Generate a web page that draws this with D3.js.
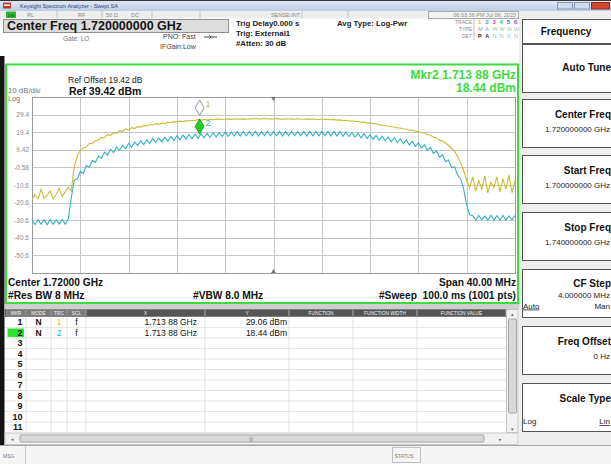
<!DOCTYPE html>
<html><head><meta charset="utf-8">
<script src="https://cdn.jsdelivr.net/npm/d3@7"></script>
<style>body{margin:0;background:#fff}svg{display:block}text{font-family:"Liberation Sans",Arial,sans-serif}</style>
</head><body>
<svg id="c" width="611" height="464"></svg>
<script>
// ---------------- data ----------------
const startMHz = 1700, stopMHz = 1740, stepMHz = 0.25;
const refLevel = 39.42, dbPerDiv = 10, numDiv = 10;
const yTickLabels = ["29.4","19.4","9.42","-0.58","-10.6","-20.6","-30.6","-40.6","-50.6"];

// Trace 1 (yellow, positive peak), dBm, one value per 0.25 MHz
const trace1 = [
-19.0,-16.0,-18.5,-13.0,-18.0,-16.5,-14.0,-18.5,-16.0,-12.5,-17.0,-14.5,-12.0,-14.0,0.0,6.0,
9.0,10.5,11.0,13.0,13.0,14.5,15.0,16.5,16.3,18.0,17.6,19.0,18.8,20.3,19.8,21.2,
20.7,22.0,21.5,22.6,22.3,23.3,22.9,23.8,23.4,24.3,23.9,24.6,24.4,25.1,24.8,25.4,
25.2,25.7,25.5,26.0,25.8,26.2,26.1,26.6,26.3,26.6,26.4,26.8,26.5,26.7,26.9,26.6,
26.8,27.0,26.7,26.9,27.1,26.8,27.0,26.8,27.1,26.9,27.2,26.9,27.0,27.2,26.9,27.1,
26.9,27.2,27.0,26.8,27.1,26.9,27.0,26.8,27.1,26.9,26.8,27.0,26.7,26.9,26.8,26.6,
26.9,26.6,26.7,26.5,26.6,26.3,26.4,26.1,26.2,25.8,25.9,25.5,25.5,25.1,25.2,24.7,
24.6,24.3,24.2,23.7,23.5,23.2,22.9,22.5,22.4,21.9,21.8,21.2,21.2,20.5,20.6,19.8,
19.9,19.0,19.0,18.0,17.8,16.6,16.3,14.8,14.5,13.3,12.0,10.3,8.5,5.5,2.0,-2.5,
-8.0,-12.0,-6.0,-14.0,-8.0,-13.0,-5.5,-15.0,-9.0,-12.0,-6.0,-14.5,-7.0,-13.0,-5.0,-15.0,
-8.0
];
// Trace 2 (cyan, average), dBm
const trace2 = [
-30.6,-33.0,-30.4,-32.8,-30.5,-33.1,-30.3,-32.9,-30.4,-32.7,-30.2,-32.8,-30.0,-18.0,-8.0,-7.0,
-3.0,-4.0,0.5,-0.5,3.5,2.3,6.0,4.5,8.0,6.3,9.6,7.8,11.0,9.1,12.1,10.1,
13.1,11.0,13.9,11.8,14.6,12.4,15.2,13.0,15.8,13.5,16.2,13.9,16.6,14.3,17.0,14.7,
17.4,15.1,17.8,15.4,18.1,15.7,18.3,15.9,18.5,16.2,18.8,16.4,19.1,16.7,19.3,16.9,
19.5,17.1,19.6,17.2,19.7,17.3,19.8,17.4,19.9,17.4,19.9,17.3,19.9,17.5,20.0,17.4,
19.9,17.4,19.9,17.3,19.9,17.4,20.0,17.5,19.9,17.4,19.9,17.3,19.9,17.4,19.8,17.3,
19.9,17.4,19.8,17.3,19.9,17.3,19.7,17.1,19.5,16.9,19.2,16.6,18.9,16.2,18.5,15.8,
18.0,15.3,17.6,14.9,17.2,14.5,16.7,14.0,16.3,13.5,15.7,12.8,15.0,12.1,14.3,11.4,
13.5,10.4,12.3,9.1,10.8,7.3,8.8,5.2,6.5,2.7,3.6,-0.7,-0.3,-5.0,-7.0,-13.0,
-22.0,-27.5,-28.0,-30.5,-27.9,-30.4,-28.1,-30.6,-27.8,-30.5,-28.0,-30.3,-27.9,-30.6,-28.1,-30.4,
-27.9
];
const markers = [
  {id:"1", freqMHz:1713.88, value:29.06, trc:"1"},
  {id:"2", freqMHz:1713.88, value:18.44, trc:"2"}
];
const markerX = ["1.713 88 GHz","1.713 88 GHz"];
const markerY = ["29.06 dBm","18.44 dBm"];
const tableCols = ["MKR","MODE","TRC","SCL","X","Y","FUNCTION","FUNCTION WIDTH","FUNCTION VALUE"];
const softkeys = [
  {title:"Auto Tune", value:""},
  {title:"Center Freq", value:"1.720000000 GHz"},
  {title:"Start Freq", value:"1.700000000 GHz"},
  {title:"Stop Freq", value:"1.740000000 GHz"},
  {title:"CF Step", value:"4.000000 MHz", left:"Auto", right:"Man"},
  {title:"Freq Offset", value:"0 Hz"},
  {title:"Scale Type", value:"", left:"Log", right:"Lin"}
];

// ---------------- drawing ----------------
const svg = d3.select("#c");
const YEL = "#c9bd35", CYN = "#35b1c6", GRN = "#3ddc3d";
function T(g, x, y, s, o = {}) {
  const t = g.append("text").attr("x", x).attr("y", y).text(s)
    .attr("font-size", o.size || 7).attr("fill", o.fill || "#1a1a1a")
    .attr("text-anchor", o.anchor || "start");
  if (o.bold) t.attr("font-weight", "bold");
  if (o.ul) t.attr("text-decoration", "underline");
  return t;
}
function R(g, x, y, w, h, fill, stroke, sw) {
  return g.append("rect").attr("x", x).attr("y", y).attr("width", w).attr("height", h)
    .attr("fill", fill || "none").attr("stroke", stroke || "none").attr("stroke-width", sw || 1);
}
const defs = svg.append("defs");
const gr = defs.append("linearGradient").attr("id", "tb").attr("x1", 0).attr("y1", 0).attr("x2", 0).attr("y2", 1);
gr.append("stop").attr("offset", "0").attr("stop-color", "#e3ebf6");
gr.append("stop").attr("offset", "1").attr("stop-color", "#bccde3");

// title bar
R(svg, 0, 0, 611, 11, "url(#tb)");
R(svg, 0, 0, 611, 1, "#333");
R(svg, 3, 2.5, 8, 6, "#c23a32");
R(svg, 4, 4.5, 6, 1.5, "#fff");
T(svg, 20, 8.2, "Keysight Spectrum Analyzer - Swept SA", {size: 5.5, fill: "#2f3f6f"});
R(svg, 557.5, 2.5, 15, 6.5, "#cfdbea", "#8797b0");
R(svg, 574.5, 2.5, 15, 6.5, "#cfdbea", "#8797b0");
R(svg, 591.5, 2.5, 18, 6.5, "#d2452f", "#8f2a1c");

// status row
R(svg, 0, 11, 611, 7.5, "#eeeeee");
R(svg, 6, 11.5, 10, 6.5, "#2fb62f");
T(svg, 11, 16.7, "LXI", {size: 4, fill: "#0a3a0a", anchor: "middle"});
[57, 102, 152, 200, 302, 348].forEach(v => svg.append("line").attr("x1", v).attr("x2", v).attr("y1", 11).attr("y2", 18.5).attr("stroke", "#c4c4c4"));
R(svg, 428.5, 11.5, 90, 7, "#f3f3f3", "#aaa");
T(svg, 27, 17, "RL", {size: 5.5, fill: "#888"});
T(svg, 78, 17, "RF", {size: 5.5, fill: "#888"});
T(svg, 106, 17, "50 Ω", {size: 5.5, fill: "#888"});
T(svg, 131, 17, "DC", {size: 5.5, fill: "#888"});
T(svg, 300, 17, "SENSE:INT", {size: 5.5, fill: "#888", anchor: "end"});
T(svg, 516, 17, "06:03:36 PM Jul 06, 2023", {size: 5.5, fill: "#888", anchor: "end"});

// settings header
R(svg, 3.5, 19.5, 225, 13, "#dcdcdc", "#8e8e8e");
T(svg, 7, 30.3, "Center Freq 1.720000000 GHz", {size: 12.5, bold: true, fill: "#151515"});
T(svg, 63, 41, "Gate: LO", {size: 6.5, fill: "#777"});
T(svg, 163, 39, "PNO: Fast", {size: 7, fill: "#444"});
svg.append("path").attr("d", "M204,37 L209,37 M212,37 L217,37 M209,35.5 L211,37 L209,38.5 M212,35.5 L210.5,37 L212,38.5").attr("stroke", "#333").attr("fill", "none").attr("stroke-width", 0.9);
T(svg, 160, 49, "IFGain:Low", {size: 7, fill: "#444"});
T(svg, 236, 25.5, "Trig Delay0.000 s", {size: 7.8, bold: true, fill: "#222"});
T(svg, 236, 35.5, "Trig: External1", {size: 7.8, bold: true, fill: "#222"});
T(svg, 236, 45.5, "#Atten: 30 dB", {size: 7.8, bold: true, fill: "#222"});
T(svg, 337, 25.5, "Avg Type: Log-Pwr", {size: 7.8, bold: true, fill: "#222"});
T(svg, 472, 24, "TRACE", {size: 5, fill: "#888", anchor: "end"});
T(svg, 472, 31, "TYPE", {size: 5, fill: "#888", anchor: "end"});
T(svg, 472, 38, "DET", {size: 5, fill: "#888", anchor: "end"});
svg.append("line").attr("x1", 474).attr("x2", 474).attr("y1", 19).attr("y2", 40).attr("stroke", "#bbb");
const trCols = ["#d8c400", "#2aa9d0", "#d040c0", "#3cba3c", "#4060e0", "#9050c0"];
["1","2","3","4","5","6"].forEach((d, i) => T(svg, 478 + i * 7.2, 24, d, {size: 6, fill: trCols[i], bold: true}));
["M","A","W","W","W","W"].forEach((d, i) => T(svg, 478 + i * 7.2, 31, d, {size: 5.5, fill: i < 2 ? "#999" : "#9fc8a8"}));
["P","A","N","N","N","N"].forEach((d, i) => T(svg, 478 + i * 7.2, 38, d, {size: 5.5, fill: i < 2 ? "#333" : "#8fc8b8", bold: i < 2}));

// right soft-key panel
R(svg, 519, 18.5, 92, 427, "#eeeeee");
R(svg, 522.5, 19.5, 92, 24, "#fff", "#555");
T(svg, 566, 34.5, "Frequency", {size: 10, bold: true, fill: "#111", anchor: "middle"});
const keyTops = [44, 99, 155, 212, 269, 326, 383];
softkeys.forEach((k, i) => {
  const y0 = keyTops[i];
  R(svg, 522.5, y0 + 0.5, 92, 48, "#fff", "#555");
  const three = k.value && k.left;
  const ty = three ? y0 + 18 : (k.value || k.left ? y0 + 19 : y0 + 27);
  T(svg, 611, ty, k.title, {size: 10, bold: true, fill: "#111", anchor: "end"});
  if (k.value) T(svg, 610, three ? y0 + 28.5 : y0 + 33, k.value, {size: 8, fill: "#222", anchor: "end"});
  if (k.left) {
    const ly = three ? y0 + 39.5 : y0 + 41;
    T(svg, 523, ly, k.left, {size: 8, fill: "#222", ul: k.left === "Auto"});
    T(svg, 610, ly, k.right, {size: 8, fill: "#222", anchor: "end", ul: k.right === "Lin"});
  }
});

// black left edge
R(svg, 0, 56, 4.5, 389, "#141414");

// plot frame
R(svg, 6, 64.5, 512, 238.5, "#fff", GRN, 2);

const x = d3.scaleLinear().domain([startMHz, stopMHz]).range([32, 515]);
const y = d3.scaleLinear().domain([refLevel - dbPerDiv * numDiv, refLevel]).range([273, 97]);
const plot = svg.append("g");
const grid = plot.append("g").attr("stroke", "#c6c6c6").attr("stroke-width", 1);
d3.range(numDiv + 1).forEach(k => {
  const xv = Math.round(x(startMHz + k * (stopMHz - startMHz) / numDiv)) + 0.5;
  grid.append("line").attr("x1", xv).attr("x2", xv).attr("y1", y.range()[1]).attr("y2", y.range()[0]);
  const yv = Math.round(y(refLevel - k * dbPerDiv)) + 0.5;
  grid.append("line").attr("x1", x.range()[0]).attr("x2", x.range()[1]).attr("y1", yv).attr("y2", yv);
});
R(plot, x.range()[0] + 0.5, y.range()[1] + 0.5, x.range()[1] - x.range()[0], y.range()[0] - y.range()[1], "none", "#9a9a9a");
// centre markers
const cx = x((startMHz + stopMHz) / 2);
plot.append("path").attr("d", `M${cx - 2.5},${y.range()[1]} L${cx + 2.5},${y.range()[1]} L${cx},${y.range()[1] + 4}Z`).attr("fill", "#777");
plot.append("path").attr("d", `M${cx - 2.5},${y.range()[0]} L${cx + 2.5},${y.range()[0]} L${cx},${y.range()[0] - 4}Z`).attr("fill", "#777");

// y axis labels
const yAxis = d3.axisLeft(y)
  .tickValues(yTickLabels.map((d, i) => refLevel - (i + 1) * dbPerDiv))
  .tickFormat((d, i) => yTickLabels[i]).tickSize(0).tickPadding(3);
const ya = plot.append("g").attr("transform", `translate(${x.range()[0]},0)`).call(yAxis);
ya.select(".domain").remove();
ya.selectAll("text").attr("font-size", 6.5).attr("fill", "#8a8a8a").attr("font-family", '"Liberation Sans",Arial,sans-serif');

// traces
plot.append("clipPath").attr("id", "pc").append("rect")
  .attr("x", x.range()[0]).attr("y", y.range()[1]).attr("width", x.range()[1] - x.range()[0]).attr("height", y.range()[0] - y.range()[1]);
const line = d3.line().x((d, i) => x(startMHz + i * stepMHz)).y(d => y(d));
const tg = plot.append("g").attr("clip-path", "url(#pc)");
tg.append("path").datum(trace1).attr("d", line).attr("fill", "none").attr("stroke", YEL).attr("stroke-width", 1.1);
tg.append("path").datum(trace2).attr("d", line).attr("fill", "none").attr("stroke", CYN).attr("stroke-width", 1.1);

// markers
markers.forEach(m => {
  const mx = x(m.freqMHz), my = y(m.value);
  const fill = m.id === "2" ? "#25cc25" : "#fff";
  const st = m.id === "2" ? "#1a8a1a" : "#777";
  plot.append("path").attr("d", `M${mx},${my} L${mx - 4.5},${my - 7.5} L${mx},${my - 15} L${mx + 4.5},${my - 7.5}Z`)
    .attr("fill", fill).attr("stroke", st).attr("stroke-width", 0.8);
  T(plot, mx + 6, my - 8, m.id, {size: 9, fill: m.trc === "1" ? YEL : CYN});
});

// plot annotations
T(plot, 68, 83, "Ref Offset 19.42 dB", {size: 8.5, fill: "#222"});
T(plot, 69, 95, "Ref 39.42 dBm", {size: 10.5, bold: true, fill: "#111"});
T(plot, 8, 93, "10 dB/div", {size: 7.8, fill: "#777"});
T(plot, 8, 100.5, "Log", {size: 7.2, fill: "#777"});
T(plot, 516, 78.5, "Mkr2 1.713 88 GHz", {size: 12, bold: true, fill: GRN, anchor: "end"});
T(plot, 516, 91.5, "18.44 dBm", {size: 12, bold: true, fill: GRN, anchor: "end"});
T(plot, 8, 285.5, "Center 1.72000 GHz", {size: 10.2, bold: true, fill: "#111"});
T(plot, 8, 299, "#Res BW 8 MHz", {size: 10.2, bold: true, fill: "#111"});
T(plot, 193, 299, "#VBW 8.0 MHz", {size: 10.2, bold: true, fill: "#111"});
T(plot, 516, 285.5, "Span 40.00 MHz", {size: 10.2, bold: true, fill: "#111", anchor: "end"});
T(plot, 516, 299, "#Sweep  100.0 ms (1001 pts)", {size: 10.2, bold: true, fill: "#111", anchor: "end"}).style("white-space", "pre");

// marker table
R(svg, 4.5, 304, 515, 5, "#cfcfcf");
const colEdges = [6, 26, 51, 67, 86, 205, 289, 353, 417, 506];
R(svg, 5, 309, 513, 8, "#5e5e5e");
tableCols.forEach((c, i) => {
  R(svg, colEdges[i] + 0.5, 309.5, colEdges[i + 1] - colEdges[i] - 1, 7, i < 4 ? "#7a7a7a" : "#555", "#9a9a9a", 0.6);
  T(svg, (colEdges[i] + colEdges[i + 1]) / 2, 315.3, c, {size: 4.8, fill: "#f4f4f4", anchor: "middle"});
});
R(svg, 5, 317, 501, 116, "#fff");
const rowH = 10.5;
for (let k = 1; k <= 10; k++) svg.append("line").attr("x1", 5).attr("x2", 506).attr("y1", 317 + k * rowH).attr("y2", 317 + k * rowH).attr("stroke", "#e6e6e6");
colEdges.slice(1, -1).forEach(v => svg.append("line").attr("x1", v).attr("x2", v).attr("y1", 317).attr("y2", 433).attr("stroke", "#e2e2e2"));
R(svg, 7.5, 317 + rowH + 1, 16.5, 8.5, "#2ee22e");
d3.range(1, 12).forEach(k => T(svg, 22.5, 317 + (k - 0.5) * rowH + 3.2, String(k), {size: 9, bold: true, fill: "#111", anchor: "end"}));
markers.forEach((m, i) => {
  const yy = 317 + (i + 0.5) * rowH + 3;
  T(svg, 38.5, yy, "N", {size: 8.5, bold: true, fill: "#111", anchor: "middle"});
  T(svg, 59, yy, m.trc, {size: 8.5, fill: m.trc === "1" ? "#d8c400" : "#2aa9d0", anchor: "middle"});
  T(svg, 76.5, yy, "f", {size: 8.5, fill: "#111", anchor: "middle"});
  T(svg, 197, yy, markerX[i], {size: 8.5, fill: "#111", anchor: "end"});
  T(svg, 287, yy, markerY[i], {size: 8.5, fill: "#111", anchor: "end"});
});
// scrollbars
R(svg, 506.5, 309.5, 11.5, 123, "#f1f1f1", "#c2c2c2");
R(svg, 508.5, 319, 8, 94, "#d8d8d8", "#a8a8a8").attr("rx", 1);
T(svg, 512.3, 315.5, "▴", {size: 5, fill: "#666", anchor: "middle"});
T(svg, 512.3, 431, "▾", {size: 5, fill: "#666", anchor: "middle"});
R(svg, 5, 433, 513, 11.5, "#f1f1f1", "#c8c8c8");
R(svg, 20, 435, 464, 7, "#d8d8d8", "#a8a8a8").attr("rx", 1);
T(svg, 12, 441, "◂", {size: 5, fill: "#666", anchor: "middle"});
T(svg, 500, 441, "▸", {size: 5, fill: "#666", anchor: "middle"});
T(svg, 251, 440.5, "|||", {size: 4.5, fill: "#777", anchor: "middle"});

// status bar
R(svg, 0, 445, 611, 19, "#f5f5f5");
svg.append("line").attr("x1", 0).attr("x2", 611).attr("y1", 445.5).attr("y2", 445.5).attr("stroke", "#a8a8a8");
svg.append("line").attr("x1", 25.5).attr("x2", 25.5).attr("y1", 446).attr("y2", 464).attr("stroke", "#c8c8c8");
T(svg, 3, 458, "MSG", {size: 5, fill: "#777"});
R(svg, 392.5, 447.5, 28, 15, "#f5f5f5", "#c0c0c0");
T(svg, 394.5, 457.5, "STATUS", {size: 5, fill: "#777"});
</script>
</body></html>
